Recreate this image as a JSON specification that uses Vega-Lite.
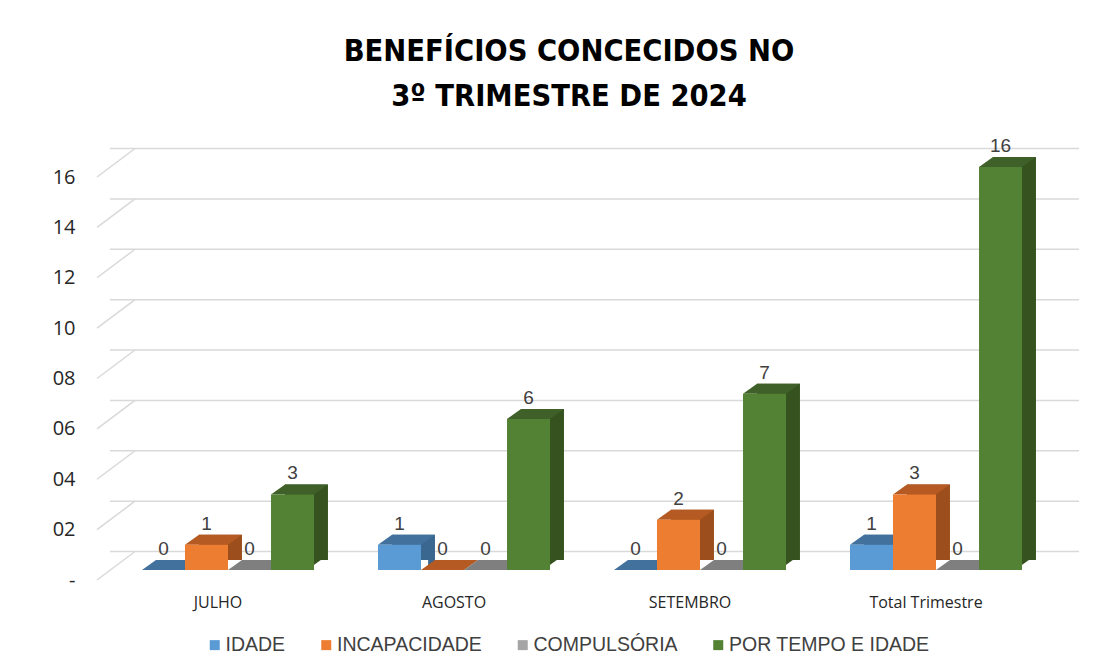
{
  "$schema": "https://vega.github.io/schema/vega-lite/v6.json",
  "width": 944,
  "height": 403,
  "autosize": {"type": "none"},
  "padding": {"left": 110, "top": 167, "right": 66, "bottom": 99},
  "background": "white",
  "config": {"view": {"stroke": null}},
  "title": {
    "text": ["BENEFÍCIOS CONCECIDOS NO", "3º TRIMESTRE DE 2024"],
    "font": "DejaVu Sans Condensed, sans-serif",
    "fontWeight": "bold",
    "fontSize": 30.5,
    "lineHeight": 45,
    "color": "#000000",
    "anchor": "middle",
    "dx": -13,
    "dy": -21
  },
  "datasets": {
    "beneficios": [
      {"mes": "JULHO", "serie": "IDADE", "v": 0},
      {"mes": "JULHO", "serie": "INCAPACIDADE", "v": 1},
      {"mes": "JULHO", "serie": "COMPULSÓRIA", "v": 0},
      {"mes": "JULHO", "serie": "POR TEMPO E IDADE", "v": 3},
      {"mes": "AGOSTO", "serie": "IDADE", "v": 1},
      {"mes": "AGOSTO", "serie": "INCAPACIDADE", "v": 0},
      {"mes": "AGOSTO", "serie": "COMPULSÓRIA", "v": 0},
      {"mes": "AGOSTO", "serie": "POR TEMPO E IDADE", "v": 6},
      {"mes": "SETEMBRO", "serie": "IDADE", "v": 0},
      {"mes": "SETEMBRO", "serie": "INCAPACIDADE", "v": 2},
      {"mes": "SETEMBRO", "serie": "COMPULSÓRIA", "v": 0},
      {"mes": "SETEMBRO", "serie": "POR TEMPO E IDADE", "v": 7},
      {"mes": "Total Trimestre", "serie": "IDADE", "v": 1},
      {"mes": "Total Trimestre", "serie": "INCAPACIDADE", "v": 3},
      {"mes": "Total Trimestre", "serie": "COMPULSÓRIA", "v": 0},
      {"mes": "Total Trimestre", "serie": "POR TEMPO E IDADE", "v": 16}
    ],
    "grid": [
      {"g": 0}, {"g": 2}, {"g": 4}, {"g": 6}, {"g": 8},
      {"g": 10}, {"g": 12}, {"g": 14}, {"g": 16}
    ]
  },
  "resolve": {"scale": {"color": "independent", "xOffset": "independent"}},
  "layer": [
    {
      "data": {"name": "grid"},
      "mark": {"type": "rule", "color": "#d9d9d9", "strokeWidth": 1.5, "yOffset": -18.5, "xOffset": 25, "x2Offset": 28},
      "encoding": {
        "y": {"field": "g", "type": "quantitative", "scale": {"domain": [0, 16], "nice": false},
          "axis": {"values": [0, 2, 4, 6, 8, 10, 12, 14, 16], "grid": false, "domain": false, "ticks": false,
            "labelPadding": 35, "labelOffset": 10, "labelFont": "Open Sans", "labelFontSize": 20, "labelColor": "#262626",
            "labelExpr": "datum.value == 0 ? '-' : (datum.value < 10 ? '0' + datum.value : '' + datum.value)", "title": null}}
      }
    },
    {
      "data": {"name": "grid"},
      "mark": {"type": "rule", "color": "#d9d9d9", "strokeWidth": 1.5, "xOffset": -13, "x2Offset": 25, "yOffset": 10, "y2Offset": -18.5},
      "encoding": {
        "x": {"value": 0},
        "x2": {"value": 0},
        "y": {"field": "g", "type": "quantitative", "scale": {"domain": [0, 16], "nice": false}},
        "y2": {"field": "g"}
      }
    },
    {
      "data": {"name": "beneficios"},
      "mark": {"type": "bar", "yOffset": -10, "y2Offset": -10},
      "encoding": {
        "x": {"field": "mes", "type": "nominal", "sort": ["JULHO", "AGOSTO", "SETEMBRO", "Total Trimestre"], "scale": {"paddingInner": 0.271, "paddingOuter": 0.1355}},
        "xOffset": {"field": "serie", "type": "nominal", "sort": ["IDADE", "INCAPACIDADE", "COMPULSÓRIA", "POR TEMPO E IDADE"], "scale": {"range": [14, 186], "paddingInner": 0, "paddingOuter": 0}},
        "y": {"field": "v", "type": "quantitative", "scale": {"domain": [0, 16], "nice": false}},
        "color": {"field": "serie", "type": "nominal", "legend": null,
          "scale": {"domain": ["IDADE", "INCAPACIDADE", "COMPULSÓRIA", "POR TEMPO E IDADE"], "range": ["#3a6790", "#9c4f1c", "#6e6e6e", "#36531f"]}}
      }
    },
    {
      "data": {"name": "beneficios"},
      "transform": [{"filter": "datum.v > 0"}],
      "mark": {"type": "point", "shape": "M 21.5 -10 L 35.5 -10 L 21.5 0 Z", "size": 4, "filled": true, "opacity": 1, "strokeWidth": 0},
      "encoding": {
        "x": {"field": "mes", "type": "nominal", "sort": ["JULHO", "AGOSTO", "SETEMBRO", "Total Trimestre"]},
        "xOffset": {"field": "serie", "type": "nominal", "sort": ["IDADE", "INCAPACIDADE", "COMPULSÓRIA", "POR TEMPO E IDADE"]},
        "y": {"datum": 0, "type": "quantitative"},
        "color": {"field": "serie", "type": "nominal", "legend": null,
          "scale": {"domain": ["IDADE", "INCAPACIDADE", "COMPULSÓRIA", "POR TEMPO E IDADE"], "range": ["#3a6790", "#9c4f1c", "#6e6e6e", "#36531f"]}}
      }
    },
    {
      "data": {"name": "beneficios"},
      "mark": {"type": "point", "shape": "M -21.5 0 L 21.5 0 L 35.5 -10 L -7.5 -10 Z", "size": 4, "filled": true, "opacity": 1, "strokeWidth": 0},
      "encoding": {
        "x": {"field": "mes", "type": "nominal", "sort": ["JULHO", "AGOSTO", "SETEMBRO", "Total Trimestre"]},
        "xOffset": {"field": "serie", "type": "nominal", "sort": ["IDADE", "INCAPACIDADE", "COMPULSÓRIA", "POR TEMPO E IDADE"]},
        "y": {"field": "v", "type": "quantitative"},
        "color": {"field": "serie", "type": "nominal", "legend": null,
          "scale": {"domain": ["IDADE", "INCAPACIDADE", "COMPULSÓRIA", "POR TEMPO E IDADE"], "range": ["#41719c", "#b45a22", "#7f7f7f", "#3f6129"]}}
      }
    },
    {
      "data": {"name": "beneficios"},
      "mark": {"type": "bar"},
      "encoding": {
        "x": {"field": "mes", "type": "nominal", "sort": ["JULHO", "AGOSTO", "SETEMBRO", "Total Trimestre"],
          "axis": {"title": null, "domain": false, "ticks": false, "labelAngle": 0, "labelAlign": "center", "labelPadding": 32, "labelOffset": -10,
            "labelFont": "Open Sans", "labelFontSize": 16, "labelColor": "#262626"}},
        "xOffset": {"field": "serie", "type": "nominal", "sort": ["IDADE", "INCAPACIDADE", "COMPULSÓRIA", "POR TEMPO E IDADE"]},
        "y": {"field": "v", "type": "quantitative"},
        "color": {"field": "serie", "type": "nominal", "sort": ["IDADE", "INCAPACIDADE", "COMPULSÓRIA", "POR TEMPO E IDADE"],
          "scale": {"domain": ["IDADE", "INCAPACIDADE", "COMPULSÓRIA", "POR TEMPO E IDADE"], "range": ["#5b9bd5", "#ed7d31", "#a5a5a5", "#548235"]},
          "legend": {"title": null, "orient": "none", "legendX": 95, "legendY": 468, "direction": "horizontal",
            "symbolType": "square", "symbolSize": 100, "symbolStrokeWidth": 0, "labelFont": "Liberation Sans", "labelFontSize": 19.5,
            "labelColor": "#404040", "labelLimit": 400, "columnPadding": 30.5, "labelOffset": 1, "padding": 0}}
      }
    },
    {
      "data": {"name": "beneficios"},
      "mark": {"type": "text", "dy": -21, "baseline": "middle", "font": "Liberation Sans", "fontSize": 19, "color": "#404040"},
      "encoding": {
        "x": {"field": "mes", "type": "nominal", "sort": ["JULHO", "AGOSTO", "SETEMBRO", "Total Trimestre"]},
        "xOffset": {"field": "serie", "type": "nominal", "sort": ["IDADE", "INCAPACIDADE", "COMPULSÓRIA", "POR TEMPO E IDADE"]},
        "y": {"field": "v", "type": "quantitative"},
        "text": {"field": "v", "type": "quantitative"}
      }
    }
  ]
}
